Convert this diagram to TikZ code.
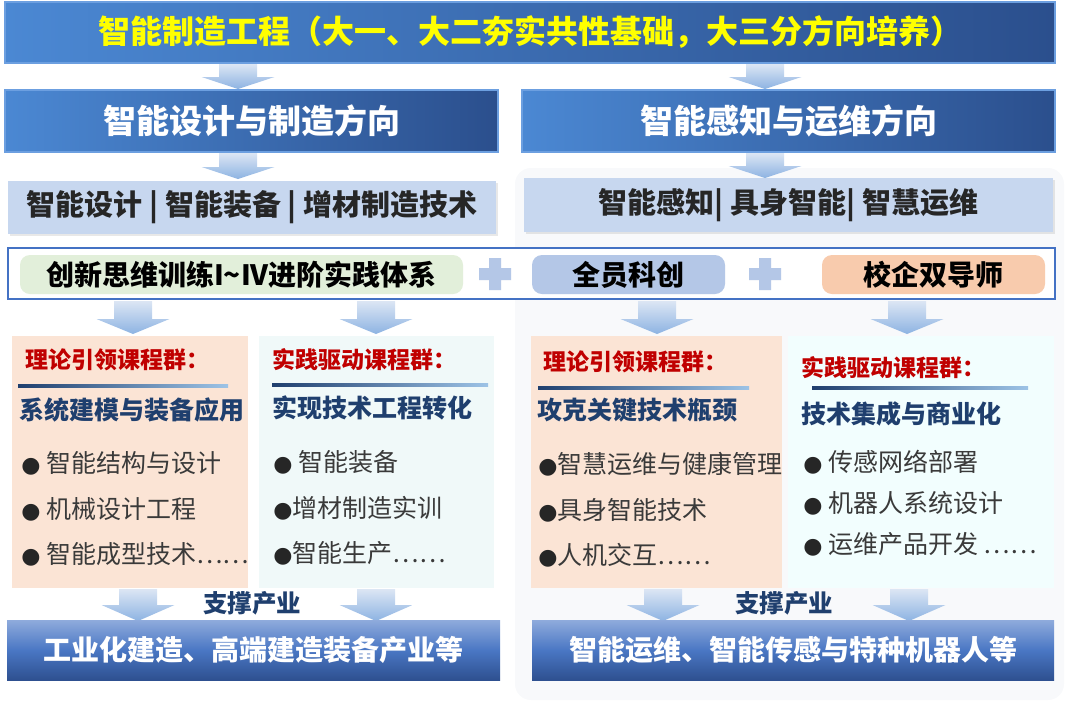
\documentclass[tikz,border=0pt]{standalone}
\usepackage{fontspec}
\setmainfont{Noto Sans CJK SC}
\newfontfamily\symfont{DejaVu Sans}
\usetikzlibrary{shadows, positioning}

\definecolor{bannerL}{HTML}{4B88D3}
\definecolor{bannerR}{HTML}{2B4F8D}
\definecolor{bannerEdge}{HTML}{6C9FE0}
\definecolor{titleYellow}{HTML}{FFFF00}
\definecolor{areaFill}{HTML}{C7D7EF}
\definecolor{frameBlue}{HTML}{4472C4}
\definecolor{tagGreen}{HTML}{E2EFDA}
\definecolor{tagBlue}{HTML}{B4C7E7}
\definecolor{tagOrange}{HTML}{F8CBAD}
\definecolor{arrowTop}{HTML}{DCE6F4}
\definecolor{arrowBot}{HTML}{8DB3E2}
\definecolor{peach}{HTML}{FBE4D5}
\definecolor{mint}{HTML}{F0F9F9}
\definecolor{headRed}{HTML}{C00000}
\definecolor{navy}{HTML}{1F3F6E}
\definecolor{ruleLight}{HTML}{9DC3E6}
\definecolor{itemGray}{HTML}{3A3A3A}
\definecolor{baseTop}{HTML}{8FABDC}
\definecolor{baseMid}{HTML}{4A77C4}
\definecolor{baseBot}{HTML}{2E5090}
\definecolor{bgGray}{HTML}{F8F9FB}

\newcommand{\fs}[1]{\fontsize{#1}{#1}\selectfont}
\newcommand{\bul}{{\symfont\fontsize{11}{11}\selectfont\color{black!85}●}}
% block arrow pointing down: #1 top centre, #2 length, #3 head length (px)
\newcommand{\blockdown}[3]{%
  \shade[top color=arrowTop, bottom color=arrowBot]
    (#1) ++(-19,0) -- ++(0,#2-#3) -- ++(-17.5,0) -- ++(36.5,#3)
    -- ++(36.5,-#3) -- ++(-17.5,0) -- ++(0,-#2+#3) -- cycle;}

\begin{document}
\begin{tikzpicture}[x=0.5pt, y=-0.5pt,
  banner/.style={rectangle, left color=bannerL, right color=bannerR, draw=bannerEdge, line width=0.6pt, inner sep=0pt, text=white, font=\bfseries\fs{16.5}},
  areabox/.style={rectangle, fill=areaFill, inner sep=0pt, text=black!85, font=\bfseries\fs{14.5}, drop shadow={opacity=0.18, shadow xshift=1pt, shadow yshift=-1pt}},
  tag/.style={rectangle, rounded corners=5pt, inner sep=0pt, minimum height=19.5pt, font=\bfseries\fs{14}},
  course/.style={rectangle, inner sep=0pt, minimum height=126pt},
  head/.style={anchor=west, inner sep=0pt, text=headRed, font=\bfseries\fs{11.5}},
  sub/.style={anchor=west, inner sep=0pt, text=navy, font=\bfseries\fs{12.5}},
  items/.style={anchor=west, inner sep=0pt, align=left, text=itemGray, font=\fontsize{12.5}{#1}\selectfont},
  base/.style={rectangle, top color=baseTop, bottom color=baseBot, middle color=baseMid, inner sep=0pt, minimum height=30pt, text=white, font=\bfseries\fs{14}}
]
\useasboundingbox (0,0) rectangle (1080,713);
\fill[bgGray, rounded corners=8pt] (515,168) rectangle (1064,700);

% top and directions
\node[banner, text=titleYellow, font=\bfseries\fs{16}, minimum width=525pt, minimum height=30.5pt] (title) at (530,32.5) {智能制造工程（大一、大二夯实共性基础，大三分方向培养）};
\node[banner, minimum width=246.5pt, minimum height=31pt] (dirL) at (251.5,121) {智能设计与制造方向};
\node[banner, minimum width=266.5pt, minimum height=31pt] (dirR) at (788.5,121) {智能感知与运维方向};

\node[areabox, minimum width=244pt, minimum height=26.5pt] (areaL) at (252,207) {智能设计 | 智能装备 | 增材制造技术};
\node[areabox, minimum width=264.5pt, minimum height=27pt] (areaR) at (788.5,205) {智能感知| 具身智能| 智慧运维};

\coordinate (a1) at (238,64);
\coordinate (a2) at (765,64);
\coordinate (a3) at (238,153);
\coordinate (a4) at (765,153);
\blockdown{a1}{25}{12}
\blockdown{a2}{25}{12}
\blockdown{a3}{26}{12}
\blockdown{a4}{25}{12}

% practice bar
\node[draw=frameBlue, line width=0.8pt, fill=white, minimum width=523.5pt, minimum height=25.5pt, inner sep=0pt] (frame) at (531.5,273.5) {};
\node[tag, fill=tagGreen, minimum width=221.5pt] (train) at (241.5,274.5) {创新思维训练I\textasciitilde IV进阶实践体系};
\node[tag, fill=tagBlue, minimum width=96.5pt] (allsci) at (628.5,274.5) {全员科创};
\node[tag, fill=tagOrange, minimum width=111.5pt] (mentor) at (933.5,274.5) {校企双导师};
\coordinate (p1) at (495,274);
\coordinate (p2) at (765,274);
\fill[tagBlue] (p1) +(-16,-6) rectangle +(16,6) (p1) +(-6,-16) rectangle +(6,16);
\fill[tagBlue] (p2) +(-16,-6) rectangle +(16,6) (p2) +(-6,-16) rectangle +(6,16);

\coordinate (a5) at (133,301);
\coordinate (a6) at (376,301);
\coordinate (a7) at (657,301);
\coordinate (a8) at (907,301);
\foreach \p in {a5,a6,a7,a8} {\blockdown{\p}{33}{15}}

% course groups
\node[course, fill=peach, minimum width=118pt] (c1) at (130,462) {};
\node[course, fill=mint, minimum width=117.5pt] (c2) at (376.5,462) {};
\node[course, fill=peach, minimum width=125.5pt] (c3) at (656.5,462) {};
\node[course, fill=mint!80!cyan!20, minimum width=133pt] (c4) at (921,462) {};

\node[head] (h1) at (25,360) {理论引领课程群：};
\shade[left color=navy, right color=ruleLight] (18,384.5) rectangle (228,387.5);
\node[sub] (s1) at (19,410) {系统建模与装备应用};
\node[items=22.75pt] (i1) at (21,509) {\bul{} 智能结构与设计\\\bul{} 机械设计工程\\\bul{} 智能成型技术……};

\node[head] (h2) at (272,360) {实践驱动课程群：};
\shade[left color=navy, right color=ruleLight] (272,383.5) rectangle (488,386.5);
\node[sub] (s2) at (272,408) {实现技术工程转化};
\node[items=22.75pt] (i2) at (273,508) {\bul{} 智能装备\\\bul{}增材制造实训\\\bul{}智能生产……};

\node[head] (h3) at (543,362) {理论引领课程群：};
\shade[left color=navy, right color=ruleLight] (538,386.5) rectangle (749,389.5);
\node[sub] (s3) at (537,410) {攻克关键技术瓶颈};
\node[items=22.75pt] (i3) at (538,510) {\bul{}智慧运维与健康管理\\\bul{}具身智能技术\\\bul{}人机交互……};

\node[head] (h4) at (801,368) {实践驱动课程群：};
\shade[left color=navy, right color=ruleLight] (812,386.5) rectangle (1028,389.5);
\node[sub] (s4) at (801,414) {技术集成与商业化};
\node[items=20.5pt] (i4) at (803,503) {\bul{} 传感网络部署\\\bul{} 机器人系统设计\\\bul{} 运维产品开发 ……};

% industries
\coordinate (a9) at (138,589);
\coordinate (a10) at (376,589);
\coordinate (a11) at (663,589);
\coordinate (a12) at (909,589);
\foreach \p in {a9,a10,a11,a12} {\blockdown{\p}{32}{16}}
\node[text=navy, font=\bfseries\fs{12.25}] (sup1) at (252,603) {支撑产业};
\node[text=navy, font=\bfseries\fs{12.25}] (sup2) at (784,603) {支撑产业};

\node[base, minimum width=246.5pt] (baseL) at (253.5,650) {工业化建造、高端建造装备产业等};
\node[base, minimum width=261pt] (baseR) at (793,650) {智能运维、智能传感与特种机器人等};
\end{tikzpicture}
\end{document}
